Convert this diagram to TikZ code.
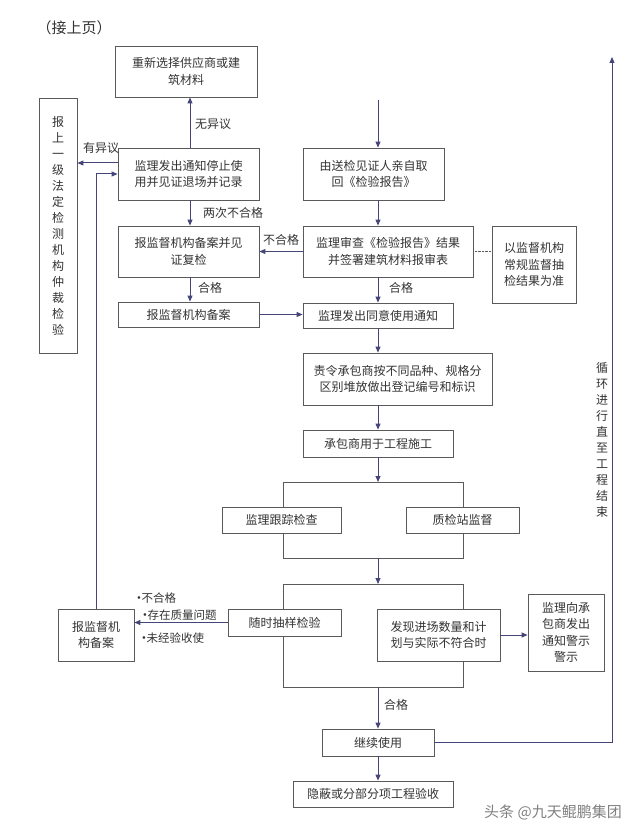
\documentclass[tikz,border=0pt]{standalone}
\usepackage{fontspec}
\setmainfont{Noto Sans CJK SC}
\usetikzlibrary{arrows.meta}
\definecolor{boxline}{HTML}{5A5A5A}
\definecolor{arrline}{HTML}{45457A}
\definecolor{txt}{HTML}{333333}
\newcommand{\dotmark}{\raisebox{3pt}{$\scriptscriptstyle\bullet$}\kern0.5pt}
\tikzset{box/.style 2 args={draw=boxline, line width=0.8pt, fill=white, text=txt, align=center,
           inner sep=0pt, minimum width=#1, minimum height=#2, font=\fontsize{12}{16.5}\selectfont},
         arr/.style={draw=arrline, line width=1pt, -{Triangle[length=6pt,width=5pt]}},
         lab/.style={text=txt, inner sep=0pt, font=\fontsize{12}{14}\selectfont},
         small/.style={text=txt, inner sep=0pt, anchor=west, font=\fontsize{11.5}{13}\selectfont}}

\begin{document}
\begin{tikzpicture}[x=1pt, y=-1pt]
\useasboundingbox (0,0) rectangle (640,834);
\coordinate (col) at (378,0);
\coordinate (lcol) at (190,0);
\coordinate (in) at (378,100);
\coordinate (looptop) at (612,57);
\coordinate (f1nw) at (283,482);
\coordinate (f1se) at (463,558);
\coordinate (f2nw) at (283,584);
\coordinate (f2se) at (463,687);
% the two frames behind the parallel checks
\draw[boxline, line width=0.8pt] (f1nw) rectangle (f1se);
\draw[boxline, line width=0.8pt] (f2nw) rectangle (f2se);

\node[text=txt, font=\fontsize{15}{15}\selectfont] (head) at (74,28) {（接上页）};
\node[box={142pt}{51pt}] (renew) at (186,71.5) {重新选择供应商或建\\筑材料};
\node[box={38pt}{255pt}, font=\fontsize{12}{16}\selectfont] (arbit) at (58,225.5)
  {报\\上\\一\\级\\法\\定\\检\\测\\机\\构\\仲\\裁\\检\\验};
\node[box={141pt}{52pt}] (stop) at (188.5,174) {监理发出通知停止使\\用并见证退场并记录};
\node[box={141pt}{52pt}] (fetch) at (373.5,174) {由送检见证人亲自取\\回《检验报告》};
\node[box={170pt}{51pt}] (review) at (388,251.5) {监理审查《检验报告》结果\\并签署建筑材料报审表};
\node[box={84pt}{77pt}] (super) at (534,264.5) {以监督机构\\常规监督抽\\检结果为准};
\node[box={141pt}{51pt}] (recheck) at (188.5,251.5) {报监督机构备案并见\\证复检};
\node[box={141pt}{25pt}] (file1) at (188.5,314.5) {报监督机构备案};
\node[box={150pt}{25pt}] (agree) at (378,315.5) {监理发出同意使用通知};
\node[box={189pt}{52pt}] (sort) at (397.5,379) {责令承包商按不同品种、规格分\\区别堆放做出登记编号和标识};
\node[box={150pt}{27pt}] (use) at (378,443.5) {承包商用于工程施工};
\node[box={119pt}{26pt}] (track) at (281.5,520) {监理跟踪检查};
\node[box={113pt}{26pt}] (station) at (462.5,520) {质检站监督};
\node[box={113pt}{27pt}] (sample) at (284.5,622.5) {随时抽样检验};
\node[box={123pt}{52pt}] (mismatch) at (438.5,635) {发现进场数量和计\\划与实际不符合时};
\node[box={76pt}{77pt}] (warn) at (566,632.5) {监理向承\\包商发出\\通知警示\\警示};
\node[box={76pt}{52pt}] (file2) at (96,635) {报监督机\\构备案};
\node[box={112pt}{27pt}] (goon) at (378,742.5) {继续使用};
\node[box={160pt}{26pt}] (accept) at (373,794) {隐蔽或分部分项工程验收};
\node[text=txt, align=center, inner sep=0pt, font=\fontsize{12}{16}\selectfont] (loop) at (602,440)
  {循\\环\\进\\行\\直\\至\\工\\程\\结\\束};

% main column
\draw[arr] (in) -- (fetch.north -| col);
\draw[arr] (fetch.south -| col) -- (review.north -| col);
\draw[arr] (review.south -| col) -- (agree.north);
\draw[arr] (agree.south) -- (sort.north -| col);
\draw[arr] (sort.south -| col) -- (use.north);
\draw[arr] (use.south) -- (col |- f1nw);
\draw[arr] (col |- f1se) -- (col |- f2nw);
\draw[arr] (col |- f2se) -- (goon.north);
\draw[arr] (goon.south) -- (accept.north -| col);
% left column
\draw[arr] (lcol |- stop.north) -- (lcol |- renew.south);
\draw[arr] (lcol |- stop.south) -- (lcol |- recheck.north);
\draw[arr] (lcol |- recheck.south) -- (lcol |- file1.north);
\draw[arr] (review.west) -- (recheck.east);
\draw[arr] (file1.east) -- (file1.east -| agree.west);
\draw[boxline, densely dotted] (review.east) -- (super.west |- review.east);
\draw[arr] ([yshift=11pt]stop.west) -- ([yshift=11pt]stop.west -| arbit.east);
\draw[arr] (file2.north) -- (file2.north |- stop.west) -- (stop.west);
\draw[arr] (sample.west) -- (sample.west -| file2.east);
\draw[arr] (mismatch.east) -- (mismatch.east -| warn.west);
\draw[arr] (goon.east) -- (goon.east -| looptop) -- (looptop);

\node[lab, anchor=west] (noobj) at (195,124) {无异议};
\node[lab] (obj) at (101,148) {有异议};
\node[lab, anchor=west] (twice) at (203,213) {两次不合格};
\node[lab] (fail) at (281,240) {不合格};
\node[lab, anchor=west] (pass1) at (198,288) {合格};
\node[lab, anchor=west] (pass2) at (389,288) {合格};
\node[lab, anchor=west] (pass3) at (384,705) {合格};
\node[small] (why1) at (137,598) {\dotmark 不合格};
\node[small] (why2) at (143,615) {\dotmark 存在质量问题};
\node[small] (why3) at (142,638) {\dotmark 未经验收使};
\node[text=gray, font=\fontsize{15}{15}\selectfont] (mark) at (553,812) {头条 @九天鲲鹏集团};
\end{tikzpicture}
\end{document}
